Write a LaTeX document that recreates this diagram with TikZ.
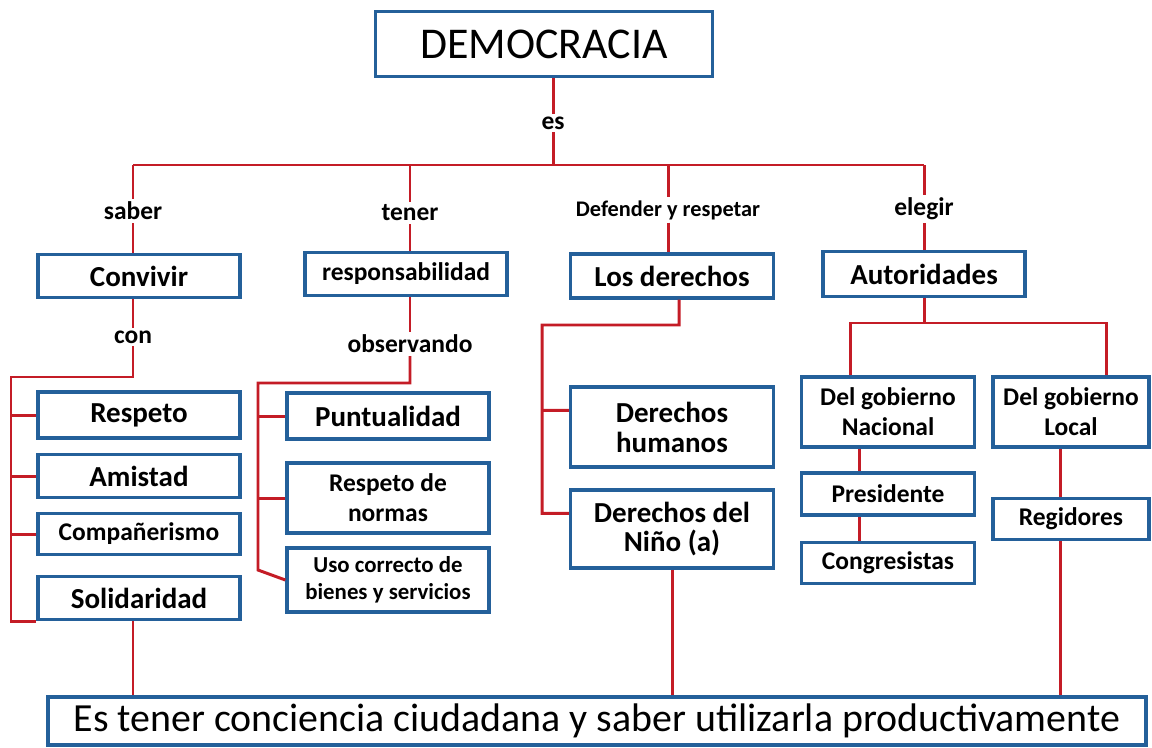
\documentclass[tikz,border=0pt]{standalone}
\usepackage{fontspec}
\setmainfont{Carlito}
\usetikzlibrary{positioning}

\definecolor{azul}{RGB}{36,96,154}
\definecolor{rojo}{RGB}{196,28,38}

\tikzset{
  caja/.style={draw=azul, line width=1.9pt, fill=white, inner sep=0pt, align=center,
    font=\bfseries\fontsize{16.5}{17}\selectfont},
  cajachica/.style={caja, font=\bfseries\fontsize{14.5}{17}\selectfont},
  etiqueta/.style={inner sep=1.5pt, font=\bfseries\fontsize{14.5}{17}\selectfont},
  linea/.style={draw=rojo, line width=1.7pt},
}

\begin{document}
\begin{tikzpicture}[x=0.02cm, y=-0.02cm]
\useasboundingbox (0,0) rectangle (1152,747);
% titulo
\node[caja, minimum width=6.74cm, minimum height=1.3cm, font=\fontsize{25}{28}\selectfont] (democracia) at (544,44) {DEMOCRACIA};
\node[etiqueta] (es) at (553,123) {es};
% primer nivel
\node[etiqueta] (saber) at (133,211) {saber};
\node[etiqueta] (tener) at (410,213) {tener};
\node[etiqueta, font=\bfseries\fontsize{12.7}{15}\selectfont] (defender) at (668,210) {Defender y respetar};
\node[etiqueta] (elegir) at (924,209) {elegir};
\node[caja, minimum width=4.04cm, minimum height=0.86cm] (convivir) at (139,276) {Convivir};
\node[cajachica, minimum width=4.04cm, minimum height=0.86cm] (responsabilidad) at (406,274) {responsabilidad};
\node[caja, minimum width=4.06cm, minimum height=0.88cm] (derechos) at (672,276) {Los derechos};
\node[caja, minimum width=4.04cm, minimum height=0.9cm] (autoridades) at (924,274) {Autoridades};
\node[etiqueta] (con) at (133,337) {con};
\node[etiqueta] (observando) at (410,344) {observando};
% convivir con
\node[caja, minimum width=4.04cm, minimum height=0.92cm] (respeto) at (139,415) {Respeto};
\node[caja, minimum width=4.04cm, minimum height=0.86cm] (amistad) at (139,476) {Amistad};
\node[cajachica, minimum width=4.04cm, minimum height=0.82cm] (companerismo) at (139,534) {Compañerismo};
\node[caja, minimum width=4.04cm, minimum height=0.86cm] (solidaridad) at (139,598) {Solidaridad};
% observando
\node[caja, minimum width=4.04cm, minimum height=0.92cm] (puntualidad) at (388,416) {Puntualidad};
\node[cajachica, minimum width=4.04cm, minimum height=1.4cm] (normas) at (388,498) {Respeto de\\normas};
\node[cajachica, minimum width=4.04cm, minimum height=1.28cm, font=\bfseries\fontsize{13}{15.5}\selectfont] (uso) at (388,580) {Uso correcto de\\bienes y servicios};
% derechos
\node[caja, minimum width=4.06cm, minimum height=1.6cm] (humanos) at (672,427) {Derechos\\humanos};
\node[caja, minimum width=4.06cm, minimum height=1.56cm] (nino) at (672,529) {Derechos del\\Niño (a)};
% autoridades
\node[cajachica, minimum width=3.46cm, minimum height=1.4cm] (nacional) at (888,412) {Del gobierno\\Nacional};
\node[cajachica, minimum width=3.12cm, minimum height=1.4cm] (local) at (1071,412) {Del gobierno\\Local};
\node[cajachica, minimum width=3.46cm, minimum height=0.84cm] (presidente) at (888,494) {Presidente};
\node[cajachica, minimum width=3.46cm, minimum height=0.82cm] (congresistas) at (888,563) {Congresistas};
\node[cajachica, minimum width=3.12cm, minimum height=0.82cm] (regidores) at (1071,519) {Regidores};
% conclusion
\node[caja, minimum width=21.96cm, minimum height=0.96cm, font=\fontsize{22.7}{26}\selectfont] (conciencia) at (597,721) {Es tener conciencia ciudadana y saber utilizarla productivamente};

% conectores
\coordinate (bus) at (553,165);
\draw[linea] (es.north |- democracia.south) -- (es.north);
\draw[linea] (es.south) -- (bus);
\draw[linea] (saber.north |- bus) -- (elegir.north |- bus);
\foreach \e/\c in {saber/convivir,tener/responsabilidad,defender/derechos,elegir/autoridades}{
  \draw[linea] (\e.north |- bus) -- (\e.north);
  \draw[linea] (\e.south) -- (\e.south |- \c.north);
}
% convivir con
\coordinate (ci) at (11,377);
\draw[linea] (con.north |- convivir.south) -- (con.north);
\draw[linea] (con.south) -- (con.south |- ci) -- (ci) -- (ci |- solidaridad.south) -- (solidaridad.south west);
\foreach \b in {respeto,amistad,companerismo}
  \draw[linea] (ci |- \b.west) -- (\b.west);
% observando
\coordinate (oi) at (258,383);
\coordinate (oj) at (258,570);
\draw[linea] (observando.north |- responsabilidad.south) -- (observando.north);
\draw[linea] (observando.south) -- (observando.south |- oi) -- (oi) -- (oj) -- (uso.west);
\foreach \b in {puntualidad,normas}
  \draw[linea] (oi |- \b.west) -- (\b.west);
% derechos
\coordinate (dj) at (679,325);
\coordinate (di) at (542,325);
\draw[linea] (dj |- derechos.south) -- (dj) -- (di) -- (di |- nino.north west) -- ++(0,25) -- ([yshift=-0.5cm]nino.north west);
\draw[linea] (di |- humanos.north west) ++(0,25) -- ([yshift=-0.5cm]humanos.north west);
% autoridades
\coordinate (ai) at (850,323);
\coordinate (aj) at (1106,323);
\coordinate (ni) at (859,460);
\coordinate (li) at (1060,460);
\draw[linea] (autoridades.south) -- (autoridades.south |- ai);
\draw[linea] (ai |- nacional.north) -- (ai) -- (aj) -- (aj |- local.north);
\draw[linea] (ni |- nacional.south) -- (ni |- presidente.north);
\draw[linea] (ni |- presidente.south) -- (ni |- congresistas.north);
\draw[linea] (li |- local.south) -- (li |- regidores.north);
% conclusion
\draw[linea] (con.south |- solidaridad.south) -- (con.south |- conciencia.north);
\draw[linea] (nino.south) -- (nino.south |- conciencia.north);
\draw[linea] (li |- regidores.south) -- (li |- conciencia.north);
\end{tikzpicture}
\end{document}
